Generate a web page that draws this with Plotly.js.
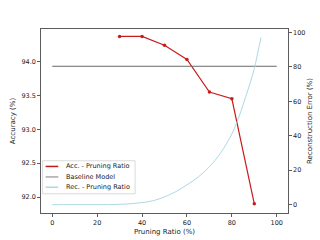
<!DOCTYPE html>
<html>
<head>
<meta charset="utf-8">
<script src="https://cdn.plot.ly/plotly-3.0.1.min.js"></script>
<style>html,body{margin:0;padding:0;background:#fff;}#chart{width:320px;height:240px;}</style>
</head>
<body>
<div id="chart"></div>
<script>
// Accuracy vs pruning ratio
const accRatio = [30, 40, 50, 60, 70, 80, 90];
const accValues = [94.37, 94.37, 94.24, 94.03, 93.55, 93.45, 91.90];
// Baseline model accuracy
const baseRatio = [0, 100];
const baseValues = [93.93, 93.93];
// Reconstruction error vs pruning ratio
const recRatio = [0, 5, 10, 15, 20, 25, 30, 35, 40, 45, 50, 55, 60, 65, 70, 75, 80, 82, 84, 86, 88, 90, 92, 93];
const recValues = [0, 0, 0, 0, 0, 0, 0.2, 0.5, 1.2, 2.3, 4.5, 7.5, 11.5, 16, 22, 30, 41, 47, 54, 62, 70, 79, 91, 97];
// Tick labels
const xTicks = [0, 20, 40, 60, 80, 100];
const yTicks = [92.0, 92.5, 93.0, 93.5, 94.0];
const y2Ticks = [0, 20, 40, 60, 80, 100];
// Series names
const seriesNames = ['Acc. - Pruning Ratio', 'Baseline Model', 'Rec. - Pruning Ratio'];
const legendColors = ['#c01c1c', '#a8a8a8', '#add8e6'];

const FONT = 'DejaVu Sans, sans-serif';
const traces = [
  {x: accRatio, y: accValues, type: 'scatter', mode: 'lines+markers', name: seriesNames[0],
   line: {color: '#c81d1d', width: 1.2}, marker: {color: '#c81d1d', size: 3.5}, yaxis: 'y'},
  {x: baseRatio, y: baseValues, type: 'scatter', mode: 'lines', name: seriesNames[1],
   line: {color: '#6a6a6a', width: 1}, yaxis: 'y'},
  {x: recRatio, y: recValues, type: 'scatter', mode: 'lines', name: seriesNames[2],
   line: {color: '#add8e6', width: 1, shape: 'spline'}, yaxis: 'y2'}
];

// Compact legend drawn in paper coordinates (matplotlib-style)
const legRows = [0.253, 0.196, 0.140];
const shapes = [{type: 'rect', xref: 'paper', yref: 'paper', x0: 0.0065, x1: 0.381, y0: 0.1047, y1: 0.2838,
  line: {color: '#d0d0d0', width: 0.8}, fillcolor: 'rgba(255,255,255,0.8)', layer: 'above'}];
const annotations = [];
seriesNames.forEach((name, i) => {
  shapes.push({type: 'line', xref: 'paper', yref: 'paper', x0: 0.0186, x1: 0.0699, y0: legRows[i], y1: legRows[i],
    line: {color: legendColors[i], width: 1.5}, layer: 'above'});
  annotations.push({xref: 'paper', yref: 'paper', x: 0.094, y: legRows[i], xanchor: 'left', yanchor: 'middle',
    text: name, showarrow: false, font: {family: FONT, size: 6.5, color: '#222'}});
});

const layout = {
  width: 320, height: 240,
  margin: {l: 40.7, r: 31.7, t: 29, b: 26.7},
  paper_bgcolor: '#fff', plot_bgcolor: '#fff',
  font: {family: FONT, size: 7, color: '#222'},
  showlegend: false,
  shapes: shapes,
  annotations: annotations,
  xaxis: {range: [-5, 105], tickvals: xTicks, ticktext: xTicks.map(String),
    showgrid: false, zeroline: false, showline: true, linecolor: '#333', linewidth: 0.8, mirror: true,
    ticks: 'outside', ticklen: 3, tickwidth: 0.8, tickcolor: '#333',
    tickfont: {size: 6.5}, title: {text: 'Pruning Ratio (%)', font: {size: 7}, standoff: 3}},
  yaxis: {range: [91.765, 94.48], tickvals: yTicks, ticktext: yTicks.map(v => v.toFixed(1)),
    showgrid: false, zeroline: false, showline: true, linecolor: '#333', linewidth: 0.8,
    ticks: 'outside', ticklen: 3, tickwidth: 0.8, tickcolor: '#333',
    tickfont: {size: 6.5}, title: {text: 'Accuracy (%)', font: {size: 7}, standoff: 4}},
  yaxis2: {range: [-4.85, 101.9], tickvals: y2Ticks, ticktext: y2Ticks.map(String),
    overlaying: 'y', side: 'right',
    showgrid: false, zeroline: false, showline: true, linecolor: '#333', linewidth: 0.8,
    ticks: 'outside', ticklen: 3, tickwidth: 0.8, tickcolor: '#333',
    tickfont: {size: 6.5}, title: {text: 'Reconstruction Error (%)', font: {size: 7}, standoff: 2}}
};

Plotly.newPlot('chart', traces, layout, {staticPlot: true, displayModeBar: false});
</script>
</body>
</html>
